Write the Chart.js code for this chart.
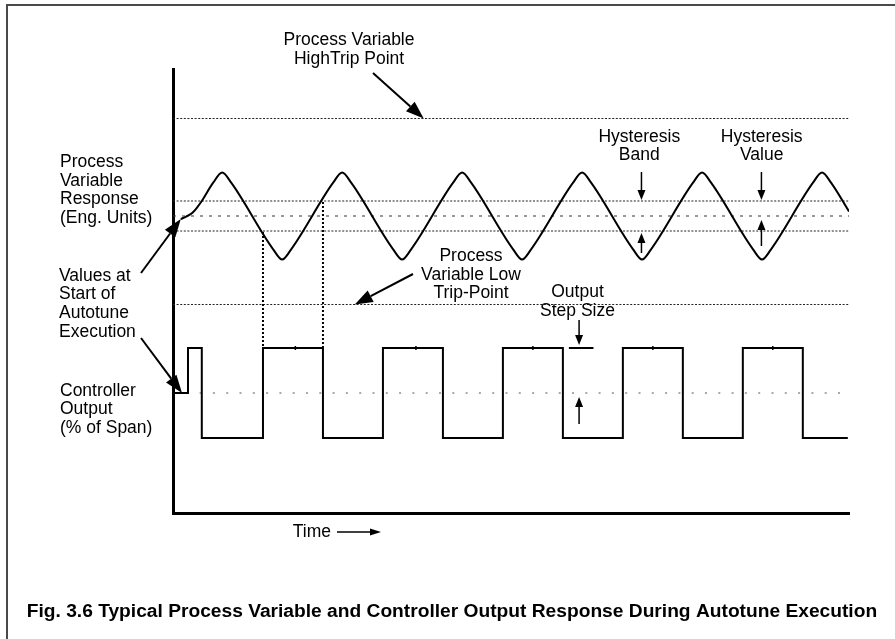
<!DOCTYPE html>
<html>
<head>
<meta charset="utf-8">
<title>Autotune Response</title>
<script src="https://cdn.jsdelivr.net/npm/chart.js@4.4.1/dist/chart.umd.min.js"></script>
<style>
  html, body { margin: 0; padding: 0; background: #fff; overflow: hidden; }
  #frame { position: absolute; left: 6px; top: 4px; width: 1000px; height: 1000px;
           border-left: 2px solid #4a4a4a; border-top: 2px solid #4a4a4a; }
  #wrap { position: absolute; left: 0; top: 0; width: 895px; height: 639px; }
</style>
</head>
<body>
<div id="frame"></div>
<div id="wrap"><canvas id="chart" width="895" height="639"></canvas></div>
<script>
// time axis: one unit = half an oscillation period
const xMax = 11.27;

// process variable response (eng. units)
const pvTime = [0.13, 0.22, 0.32, 0.40, 0.48, 0.67, 0.82, 0.97,
                1.67, 1.82, 1.97, 2.67, 2.82, 2.97, 3.67, 3.82, 3.97,
                4.67, 4.82, 4.97, 5.67, 5.82, 5.97, 6.67, 6.82, 6.97,
                7.67, 7.82, 7.97, 8.67, 8.82, 8.97, 9.67, 9.82, 9.97,
                10.67, 10.82, 10.97, 11.27];
const pvValue = [49.0, 49.8, 51.0, 52.8, 55.0, 61.1, 64.5, 61.1,
                 38.9, 35.5, 38.9, 61.1, 64.5, 61.1, 38.9, 35.5, 38.9,
                 61.1, 64.5, 61.1, 38.9, 35.5, 38.9, 61.1, 64.5, 61.1,
                 38.9, 35.5, 38.9, 61.1, 64.5, 61.1, 38.9, 35.5, 38.9,
                 61.1, 64.5, 61.1, 51.5];

// PV levels
const pvHighTrip = 82.5;
const pvBandHigh = 55;
const pvStart = 50;
const pvBandLow = 45;
const pvLowTrip = 20.5;

// controller output (% of span), value held until the next time
const outTime = [0, 0.25, 0.48, 1.5, 2.5, 3.5, 4.5, 5.5, 6.5, 7.5, 8.5, 9.5, 10.5, 11.25];
const outValue = [50, 65, 35, 65, 35, 65, 35, 65, 35, 65, 35, 65, 35, 35];
const outStart = 50;
const outHigh = 65;
const outTickTime = [2.04, 4.05, 6.0, 8.0, 10.0];

// output switches when PV leaves the hysteresis band
const switchTime = [1.5, 2.5];
const switchLevel = [45, 55];

const pts = (xs, ys) => xs.map((x, i) => ({ x: x, y: ys[i] }));
const flat = (v) => [{ x: 0, y: v }, { x: xMax, y: v }];

function refLine(level, axis, dash, color) {
    return {
        data: flat(level), yAxisID: axis, borderColor: color, borderWidth: 1.2,
        borderDash: dash, pointRadius: 0, fill: false
    };
}

function arrow(ctx, x1, y1, x2, y2, len, half, width) {
    const a = Math.atan2(y2 - y1, x2 - x1);
    const bx = x2 - len * Math.cos(a), by = y2 - len * Math.sin(a);
    ctx.lineWidth = width;
    ctx.beginPath();
    ctx.moveTo(x1, y1);
    ctx.lineTo(bx, by);
    ctx.stroke();
    ctx.beginPath();
    ctx.moveTo(x2, y2);
    ctx.lineTo(bx + half * Math.sin(a), by - half * Math.cos(a));
    ctx.lineTo(bx - half * Math.sin(a), by + half * Math.cos(a));
    ctx.closePath();
    ctx.fill();
}

function textBlock(ctx, list, x, y, align, step) {
    ctx.textAlign = align;
    list.forEach((s, i) => ctx.fillText(s, x, y + i * step));
}

const annotate = {
    id: 'annotate',
    afterDatasetsDraw(chart) {
        const ctx = chart.ctx;
        const X = v => chart.scales.x.getPixelForValue(v);
        const P = v => chart.scales.yPV.getPixelForValue(v);
        const O = v => chart.scales.yOut.getPixelForValue(v);

        ctx.save();
        ctx.strokeStyle = '#000';
        ctx.fillStyle = '#000';

        // dotted drop lines from the band crossings to the output pulse
        ctx.lineWidth = 2;
        ctx.setLineDash([2, 2]);
        switchTime.forEach((t, i) => {
            ctx.beginPath();
            ctx.moveTo(X(t), P(switchLevel[i]) + 1);
            ctx.lineTo(X(t), O(outHigh) - 1);
            ctx.stroke();
        });
        ctx.setLineDash([]);

        // label arrows
        arrow(ctx, 373, 73, X(4.18), P(pvHighTrip), 18, 6.5, 2);
        arrow(ctx, 141, 273, X(0.13), P(49), 18, 6.5, 2);
        arrow(ctx, 141, 338, X(0.15), O(outStart), 18, 6.5, 2);
        arrow(ctx, 413, 274, X(3.03), P(pvLowTrip), 18, 6.5, 2);

        // hysteresis band
        let hx = X(7.81);
        arrow(ctx, hx, 172, hx, P(pvBandHigh) - 1, 10, 4, 1.5);
        arrow(ctx, hx, 253, hx, P(pvBandLow) + 2, 10, 4, 1.5);
        // hysteresis value
        hx = X(9.81);
        arrow(ctx, hx, 172, hx, P(pvBandHigh) - 1, 10, 4, 1.5);
        arrow(ctx, hx, 246, hx, P(pvStart) + 4, 10, 4, 1.5);
        // output step size
        hx = X(6.77);
        ctx.lineWidth = 2;
        ctx.beginPath();
        ctx.moveTo(X(6.6), O(outHigh));
        ctx.lineTo(X(7.01), O(outHigh));
        ctx.stroke();
        arrow(ctx, hx, 320, hx, O(outHigh) - 3, 10, 4, 1.5);
        arrow(ctx, hx, 424, hx, O(outStart) + 4, 10, 4, 1.5);

        // time arrow
        arrow(ctx, 337, 532, 381, 532, 11, 3.5, 1.5);

        // text
        ctx.textBaseline = 'middle';
        ctx.font = '17.5px "Liberation Sans", Arial, sans-serif';
        textBlock(ctx, ['Process Variable', 'HighTrip Point'], 349, 40, 'center', 18.7);
        textBlock(ctx, ['Process', 'Variable', 'Response', '(Eng. Units)'], 60, 162, 'left', 18.7);
        textBlock(ctx, ['Values at', 'Start of', 'Autotune', 'Execution'], 59, 275.7, 'left', 18.7);
        textBlock(ctx, ['Controller', 'Output', '(% of Span)'], 60, 390.7, 'left', 18.7);
        textBlock(ctx, ['Process', 'Variable Low', 'Trip-Point'], 471, 256, 'center', 18.7);
        textBlock(ctx, ['Output', 'Step Size'], 577.5, 292.3, 'center', 18.7);
        textBlock(ctx, ['Hysteresis', 'Band'], 639.3, 136.7, 'center', 18);
        textBlock(ctx, ['Hysteresis', 'Value'], 761.7, 136.7, 'center', 18);
        textBlock(ctx, ['Time'], 292.7, 531.7, 'left', 18.7);

        ctx.font = 'bold 19.2px "Liberation Sans", Arial, sans-serif';
        textBlock(ctx, ['Fig. 3.6 Typical Process Variable and Controller Output Response During Autotune Execution'],
                  26.7, 611.7, 'left', 18.7);
        ctx.restore();
    }
};

new Chart(document.getElementById('chart'), {
    type: 'line',
    data: {
        datasets: [
            {
                label: 'Process Variable',
                data: pts(pvTime, pvValue), yAxisID: 'yPV',
                borderColor: '#000', borderWidth: 2, pointRadius: 0,
                cubicInterpolationMode: 'monotone', fill: false
            },
            {
                label: 'Controller Output',
                data: pts(outTime, outValue), yAxisID: 'yOut',
                borderColor: '#000', borderWidth: 2, pointRadius: 0,
                stepped: true, fill: false
            },
            {
                label: 'Output marks',
                data: outTickTime.map(t => ({ x: t, y: outHigh })), yAxisID: 'yOut',
                showLine: false, pointStyle: 'line', rotation: 90,
                pointRadius: 2, borderColor: '#000', borderWidth: 1.5
            },
            refLine(pvHighTrip, 'yPV', [2, 1.6], '#222'),
            refLine(pvBandHigh, 'yPV', [2, 1.6], '#222'),
            refLine(pvStart, 'yPV', [3, 6], '#333'),
            refLine(pvBandLow, 'yPV', [2, 1.6], '#222'),
            refLine(pvLowTrip, 'yPV', [2, 1.6], '#222'),
            refLine(outStart, 'yOut', [2, 11.3], '#555')
        ]
    },
    options: {
        responsive: false,
        animation: false,
        events: [],
        layout: { padding: { left: 173, top: 69, right: 46, bottom: 126 } },
        plugins: { legend: { display: false }, tooltip: { enabled: false } },
        scales: {
            x: {
                type: 'linear', min: 0, max: xMax,
                ticks: { display: false },
                grid: { display: false, drawTicks: false },
                border: { display: true, width: 3, color: '#000' }
            },
            yPV: {
                type: 'linear', position: 'left', min: -49, max: 99,
                ticks: { display: false },
                grid: { display: false, drawTicks: false },
                border: { display: true, width: 3, color: '#000' }
            },
            yOut: {
                type: 'linear', position: 'left', min: 10, max: 158,
                display: false
            }
        }
    },
    plugins: [annotate]
});
</script>
</body>
</html>
